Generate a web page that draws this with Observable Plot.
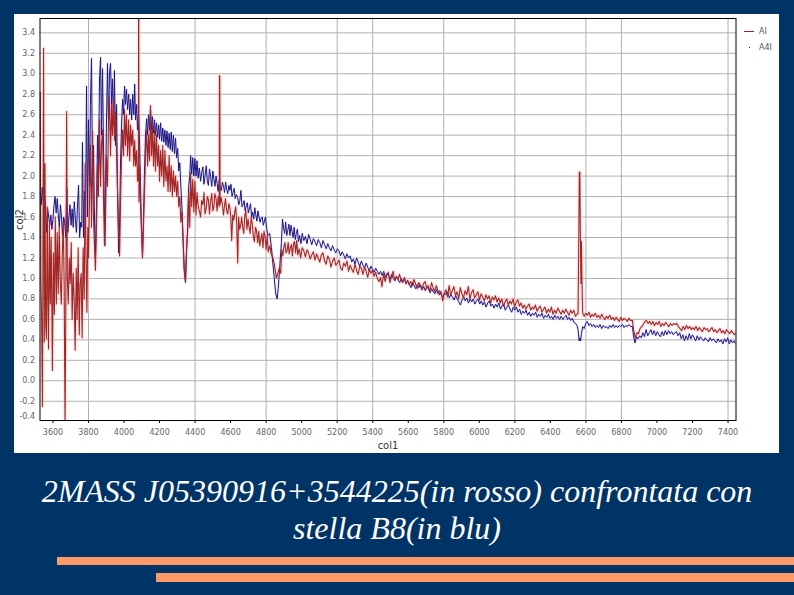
<!DOCTYPE html>
<html><head><meta charset="utf-8">
<script src="https://cdn.jsdelivr.net/npm/d3@7"></script>
<script src="https://cdn.jsdelivr.net/npm/@observablehq/plot@0.6"></script>
<style>
html,body{margin:0;padding:0;width:794px;height:595px;overflow:hidden;background:#003366}
#panel{position:absolute;left:14px;top:14px;width:765px;height:439px;background:#fff}
#chart{position:absolute;left:0;top:0}
#chart svg{background:transparent;display:block}
#chart [aria-label$="axis label"]{font-size:10px;fill:#333}
#cap{position:absolute;left:0;top:473px;width:794px;text-align:center;color:#fff;font:italic 32px/37px "Liberation Serif",serif}
.bar{position:absolute;right:0;background:#ff9966}
.lg{position:absolute;left:759px;font:8px "DejaVu Sans",sans-serif;color:#555}
</style></head><body>
<div id="panel"></div>
<div id="chart"></div>
<div class="lg" style="top:27px">AI</div><div class="lg" style="top:43px">A4I</div>
<div style="position:absolute;left:744px;top:31px;width:10px;height:1px;background:#a02020"></div>
<div style="position:absolute;left:749px;top:47px;width:1px;height:1px;background:#1a1a80"></div>
<div id="cap">2MASS J05390916+3544225(in rosso) confrontata con<br>stella B8(in blu)</div>
<div class="bar" style="left:57px;top:557px;height:8px"></div>
<div class="bar" style="left:156px;top:573px;height:9px"></div>
<script>
const xTicks=[3600,3800,4000,4200,4400,4600,4800,5000,5200,5400,5600,5800,6000,6200,6400,6600,6800,7000,7200,7400];
const xGrid=[3800,4400,4800,5200,5400,5800,6200,6600,6800,7400];
const yGrid=[-0.2,0,0.2,0.4,0.6,0.8,1,1.2,1.4,1.6,1.8,2,2.2,2.4,2.6,2.8,3,3.2,3.4];
const yTicks=[-0.35,...yGrid];

const redUv=[[3528,2.82],[3532,1.0],[3536,0.6],[3541,-0.25],[3547,3.25],[3551,0.38],[3555,2.12],[3559,0.55],[3563,0.41],[3568,1.7],[3572,0.7],[3575,0.31],[3580,1.55],[3585,0.75],[3590,1.4],[3597,0.1],[3602,1.25],[3608,0.65],[3613,1.6],[3619,0.75],[3624,1.45],[3630,0.85],[3635,1.5],[3641,0.98],[3647,0.75],[3652,1.2],[3658,1.55],[3663,0.95],[3668,-0.45],[3672,0.6],[3677,2.63],[3681,1.0],[3686,0.75],[3692,1.2],[3697,0.95],[3703,1.35],[3708,0.6],[3714,1.05],[3720,0.75],[3725,0.3],[3731,1.1],[3736,0.6],[3742,1.3],[3748,0.45],[3753,0.95],[3759,1.05],[3764,0.42],[3770,1.3],[3776,0.8],[3781,2.12],[3786,1.2],[3791,0.67],[3796,1.5],
[3800,1.2],[3806,1.8],[3811,2.3],[3817,1.5],[3823,2.44],[3828,1.6],[3834,1.3],[3839,1.08],[3845,1.5],[3851,2.1],[3856,1.8],[3862,2.55],[3868,1.9],[3873,2.3],[3879,2.45],[3885,1.75],[3890,1.32],[3896,1.6],[3901,2.2],[3907,1.9],[3913,2.55],[3918,2.77],[3924,2.2],[3930,2.7],[3935,2.4],[3941,2.74],[3946,2.35],[3952,2.62],[3958,2.2],[3963,1.9],[3969,1.5],[3975,1.22],[3980,1.7],[3986,2.2],[3992,2.45],[3997,2.2],[4003,2.65],[4008,2.3],[4014,2.6],[4020,2.2],[4026,2.55],[4032,2.15],[4037,2.5],[4043,2.3],[4049,2.45],[4055,2.1],[4060,2.35],[4065,2.1],[4071,2.25],[4076,1.95],[4081,2.0],[4082,3.7],[4083,3.7],[4084,1.75],[4088,2.1],[4093,1.7],[4098,1.5],[4104,1.2]];
const redMid=[[4110,1.55],[4116,1.9],[4121,2.2],[4127,2.45],[4133,2.1],[4138,2.4],[4144,2.15],[4149,2.69],[4155,2.2],[4160,2.5],[4166,2.1],[4172,2.45],[4177,2.05],[4183,2.4],[4189,2.1],[4195,2.3],[4200,1.95],[4206,2.25],[4212,2.0],[4218,2.3],[4224,1.9],[4230,2.25],[4236,1.95],[4242,2.1],[4248,1.85],[4254,2.2],[4260,1.85],[4266,2.1],[4272,1.8],[4278,2.05],[4284,1.85],[4290,2.0],[4296,1.8],[4302,1.95],[4308,1.7],[4314,1.8],[4320,1.55],[4326,1.65],[4332,1.4],[4338,1.1],[4346,0.98],[4352,1.3],[4358,1.45],[4364,1.85],[4370,1.5],[4375,2.03],[4381,1.7],[4387,1.97],[4393,1.65],[4399,1.95],[4405,1.62],[4411,1.84],[4417,1.71],[4424,1.66],[4431,1.6],[4437,1.76],[4444,1.72],[4450,1.84],[4456,1.63],[4463,1.69],[4469,1.8],[4475,1.77],[4481,1.63],[4487,1.75],[4494,1.83],[4500,1.66],[4506,1.7],[4511,1.83],[4518,1.78],[4524,1.66],[4530,1.8],[4536,1.7],[4537,2.98],[4539,2.98],[4541,1.72],[4547,1.79],[4553,1.73],[4560,1.62],[4565,1.7],[4571,1.78],[4578,1.66],[4584,1.63],[4590,1.73],[4596,1.69],[4601,1.6],[4606,1.37],[4612,1.62],[4618,1.57],[4624,1.66],[4629,1.7],[4634,1.55],[4640,1.15],[4645,1.6],[4651,1.48],[4657,1.52],[4662,1.6],[4668,1.5],[4674,1.44],[4680,1.62],[4686,1.66],[4692,1.48],[4698,1.58],[4704,1.5],[4710,1.44],[4716,1.6],[4722,1.53],[4728,1.41],[4734,1.36],[4740,1.5],[4746,1.47],[4752,1.35],[4758,1.46],[4764,1.32],[4770,1.38],[4776,1.44],[4782,1.3],[4788,1.46],[4794,1.41],[4800,1.28],[4806,1.42],[4812,1.26],[4820,1.32],[4828,1.24],[4838,1.2],[4848,1.12],[4858,1.0],[4866,1.05],[4874,1.1],[4882,1.05],[4888,1.28],[4894,1.22],[4900,1.31],[4906,1.35],[4912,1.25],[4918,1.27],[4924,1.35],[4930,1.24],[4936,1.3],[4942,1.33],[4948,1.22],[4954,1.34],[4960,1.36],[4966,1.25],[4972,1.37],[4978,1.23],[4986,1.29],[4994,1.2]];
const redTail=[[5003,1.3],[5012,1.27],[5021,1.21],[5030,1.28],[5039,1.25],[5048,1.19],[5057,1.23],[5066,1.26],[5075,1.18],[5084,1.24],[5093,1.2],[5102,1.16],[5111,1.23],[5120,1.25],[5129,1.17],[5138,1.14],[5147,1.22],[5156,1.19],[5165,1.11],[5174,1.17],[5183,1.2],[5192,1.13],[5201,1.15],[5210,1.18],[5219,1.1],[5228,1.08],[5237,1.15],[5246,1.12],[5255,1.17],[5264,1.07],[5273,1.13],[5282,1.09],[5291,1.06],[5300,1.14],[5309,1.08],[5318,1.04],[5327,1.12],[5336,1.1],[5345,1.04],[5354,1.11],[5363,1.07],[5372,1.01],[5381,1.09],[5390,1.05],[5399,1.08],[5408,1.02],[5417,1.06],[5426,1.0],[5435,0.97],[5444,1.01],[5452,0.92],[5461,1.04],[5470,0.97],[5479,1.03],[5488,1.06],[5497,0.96],[5506,1.02],[5515,1.07],[5524,0.98],[5533,1.02],[5542,0.99],[5551,1.04],[5560,0.98],[5569,0.96],[5578,1.01],[5587,0.95],[5596,0.98],[5605,0.94],[5614,0.97],[5623,0.93],[5632,0.99],[5641,0.95],[5650,0.9],[5659,0.96],[5668,0.93],[5677,0.89],[5686,0.95],[5695,0.97],[5704,0.9],[5713,0.93],[5722,0.87],[5731,0.96],[5740,0.91],[5749,0.87],[5758,0.93],[5767,0.88],[5776,0.84],[5785,0.87],[5794,0.78],[5803,0.85],[5812,0.89],[5821,0.82],[5830,0.93],[5839,0.84],[5848,0.88],[5857,0.92],[5866,0.83],[5875,0.87],[5884,0.8],[5893,0.91],[5902,0.85],[5911,0.81],[5920,0.88],[5929,0.84],[5938,0.92],[5947,0.8],[5956,0.86],[5965,0.89],[5974,0.81],[5983,0.84],[5992,0.87],[6001,0.79],[6010,0.85],[6019,0.82],[6028,0.78],[6037,0.84],[6046,0.8],[6055,0.83],[6064,0.76],[6073,0.82],[6082,0.79],[6091,0.83],[6100,0.77],[6109,0.81],[6118,0.76],[6127,0.8],[6136,0.73],[6145,0.77],[6154,0.8],[6163,0.74],[6172,0.78],[6181,0.75],[6190,0.8],[6199,0.72],[6208,0.77],[6217,0.79],[6226,0.73],[6235,0.76],[6244,0.71],[6253,0.74],[6262,0.7],[6271,0.73],[6280,0.75],[6289,0.69],[6298,0.72],[6307,0.7],[6316,0.74],[6325,0.68],[6334,0.71],[6343,0.73],[6352,0.67],[6361,0.7],[6370,0.72],[6379,0.66],[6388,0.7],[6397,0.67],[6406,0.72],[6415,0.65],[6424,0.69],[6433,0.66],[6442,0.71],[6451,0.68],[6460,0.65],[6469,0.69],[6478,0.66],[6487,0.7],[6496,0.67],[6505,0.64],[6514,0.69],[6523,0.66],[6532,0.69],[6541,0.63],[6550,0.65],[6556,0.66],[6560,1.41],[6563,2.04],[6566,2.04],[6569,1.41],[6572,0.95],[6575,1.36],[6578,0.95],[6582,0.66],[6590,0.63],[6599,0.66],[6608,0.64],[6617,0.67],[6626,0.62],[6635,0.65],[6644,0.63],[6653,0.66],[6662,0.62],[6671,0.64],[6680,0.61],[6689,0.65],[6698,0.62],[6707,0.6],[6716,0.63],[6725,0.61],[6734,0.64],[6743,0.6],[6752,0.62],[6761,0.59],[6770,0.62],[6779,0.6],[6788,0.58],[6797,0.62],[6806,0.59],[6815,0.61],[6824,0.6],[6833,0.58],[6842,0.61],[6851,0.59],[6862,0.59],[6868,0.5],[6878,0.42],[6888,0.47],[6896,0.46],[6905,0.51],[6914,0.53],[6923,0.55],[6932,0.58],[6941,0.59],[6950,0.56],[6959,0.58],[6968,0.55],[6977,0.58],[6986,0.54],[6995,0.57],[7004,0.55],[7013,0.58],[7022,0.53],[7031,0.56],[7040,0.54],[7049,0.57],[7058,0.55],[7067,0.53],[7076,0.56],[7085,0.54],[7094,0.56],[7103,0.55],[7112,0.56],[7121,0.53],[7130,0.51],[7139,0.49],[7148,0.53],[7157,0.5],[7166,0.54],[7175,0.51],[7184,0.53],[7193,0.5],[7202,0.52],[7211,0.5],[7220,0.53],[7229,0.49],[7238,0.52],[7247,0.5],[7256,0.48],[7265,0.52],[7274,0.5],[7283,0.51],[7292,0.48],[7301,0.5],[7310,0.52],[7319,0.48],[7328,0.5],[7337,0.47],[7346,0.49],[7355,0.51],[7364,0.47],[7373,0.49],[7382,0.46],[7391,0.5],[7400,0.48],[7409,0.46],[7418,0.49],[7427,0.47],[7436,0.45],[7444,0.47]];

const blueUv=[[3528,1.85],[3534,1.72],[3540,1.89],[3546,1.75],[3552,1.86],[3558,1.7],[3564,1.45],[3570,1.68],[3576,1.6],[3582,1.52],[3588,1.62],[3594,1.48],[3600,1.58],[3606,1.72],[3612,1.8],[3618,1.64],[3624,1.78],[3630,1.62],[3636,1.5],[3642,1.72],[3648,1.6],[3654,1.42],[3660,1.6],[3666,1.55],[3672,1.4],[3678,1.88],[3684,1.45],[3690,1.6],[3696,1.72],[3702,1.52],[3708,1.68],[3714,1.5],[3720,1.75],[3726,1.58],[3732,1.45],[3738,1.7],[3744,1.91],[3750,1.4],[3756,1.55],[3762,1.5],[3766,2.33],[3772,1.4],[3777,1.85],[3783,1.5],[3789,2.88],[3794,1.6],[3800,2.55],[3806,1.9],[3811,2.7],[3817,3.15],[3823,1.9],[3828,2.3],[3834,1.55],[3839,1.2],[3845,1.7],[3851,2.4],[3856,2.0],[3862,2.95],[3868,3.16],[3873,2.4],[3879,3.05],[3885,2.2],[3892,1.32],[3896,1.9],[3901,2.5],[3907,3.1],[3913,2.45],[3918,3.0],[3924,3.1],[3930,2.7],[3935,2.95],[3941,2.5],[3946,3.03],[3952,2.3],[3958,2.7],[3963,1.9],[3970,1.25],[3975,1.5],[3980,2.1],[3986,2.5],[3992,2.75],[3997,2.6],[4003,2.88],[4008,2.7],[4014,2.85],[4020,2.65],[4026,2.8],[4032,2.6],[4037,2.75],[4043,2.55],[4049,2.8],[4055,2.6],[4060,2.9],[4065,2.55],[4071,2.7],[4076,2.45],[4082,2.6],[4088,2.3],[4093,1.9],[4098,1.5],[4104,1.22]];
const blueMid=[[4110,1.6],[4116,2.1],[4121,2.4],[4127,2.56],[4133,2.4],[4138,2.6],[4144,2.45],[4149,2.66],[4155,2.45],[4160,2.58],[4166,2.42],[4172,2.55],[4177,2.4],[4183,2.52],[4189,2.38],[4195,2.5],[4200,2.36],[4206,2.52],[4212,2.34],[4218,2.47],[4224,2.33],[4230,2.45],[4236,2.3],[4242,2.44],[4248,2.28],[4254,2.42],[4260,2.26],[4266,2.43],[4272,2.24],[4278,2.4],[4284,2.22],[4290,2.37],[4296,2.18],[4302,2.27],[4308,2.05],[4314,2.13],[4320,1.9],[4326,1.7],[4332,1.4],[4340,1.05],[4346,0.96],[4352,1.25],[4358,1.5],[4364,1.9],[4370,2.0],[4375,2.2],[4381,2.02],[4387,2.18],[4393,2.0],[4399,2.17],[4405,2.0],[4411,2.15],[4417,1.98],[4424,2.08],[4431,1.95],[4437,2.03],[4444,2.09],[4450,1.92],[4456,2.0],[4463,2.1],[4469,1.95],[4475,1.91],[4481,2.07],[4487,2.0],[4494,1.9],[4500,2.05],[4506,1.97],[4512,1.9],[4518,2.0],[4524,1.93],[4530,1.85],[4536,1.96],[4542,1.89],[4548,1.86],[4554,1.94],[4560,1.9],[4566,1.84],[4572,1.94],[4578,1.87],[4584,1.83],[4590,1.91],[4596,1.86],[4602,1.92],[4608,1.8],[4614,1.84],[4620,1.88],[4626,1.78],[4632,1.82],[4640,1.79],[4646,1.72],[4652,1.76],[4658,1.86],[4664,1.7],[4670,1.72],[4676,1.76],[4682,1.66],[4688,1.71],[4694,1.74],[4700,1.64],[4706,1.69],[4712,1.73],[4718,1.6],[4724,1.65],[4730,1.58],[4736,1.69],[4742,1.62],[4748,1.56],[4754,1.66],[4760,1.6],[4766,1.55],[4772,1.59],[4778,1.6],[4784,1.52],[4790,1.56],[4796,1.6],[4802,1.5],[4810,1.42],[4820,1.44],[4830,1.3],[4838,1.15],[4846,1.0],[4854,0.85],[4862,0.8],[4868,0.9],[4874,1.05],[4880,1.2],[4886,1.35],[4892,1.58],[4898,1.5],[4904,1.44],[4910,1.55],[4916,1.42],[4922,1.47],[4928,1.53],[4934,1.42],[4940,1.52],[4946,1.46],[4952,1.4],[4958,1.5],[4964,1.38],[4970,1.44],[4976,1.48],[4982,1.36],[4988,1.42],[4996,1.34]];
const blueTail=[[5003,1.44],[5012,1.37],[5021,1.41],[5030,1.34],[5039,1.43],[5048,1.38],[5057,1.33],[5066,1.39],[5075,1.36],[5084,1.32],[5093,1.38],[5102,1.35],[5111,1.3],[5120,1.37],[5129,1.33],[5138,1.29],[5147,1.34],[5156,1.3],[5165,1.27],[5174,1.32],[5183,1.28],[5192,1.25],[5201,1.29],[5210,1.27],[5219,1.22],[5228,1.26],[5237,1.23],[5246,1.19],[5255,1.24],[5264,1.2],[5273,1.22],[5282,1.16],[5291,1.19],[5300,1.14],[5309,1.2],[5318,1.16],[5327,1.12],[5336,1.17],[5345,1.13],[5354,1.1],[5363,1.15],[5372,1.11],[5381,1.07],[5390,1.12],[5399,1.09],[5408,1.06],[5417,1.1],[5426,1.07],[5435,1.04],[5444,1.07],[5453,1.03],[5462,1.07],[5471,1.01],[5480,1.05],[5489,1.03],[5498,0.99],[5507,1.04],[5516,1.0],[5525,0.98],[5534,1.02],[5543,0.99],[5552,0.96],[5561,1.0],[5570,0.97],[5579,1.0],[5588,0.95],[5597,0.98],[5606,0.94],[5615,0.91],[5624,0.96],[5633,0.93],[5642,0.9],[5651,0.94],[5660,0.91],[5669,0.94],[5678,0.89],[5687,0.92],[5696,0.88],[5705,0.92],[5714,0.9],[5723,0.86],[5732,0.9],[5741,0.87],[5750,0.85],[5759,0.89],[5768,0.85],[5777,0.88],[5786,0.84],[5795,0.82],[5804,0.86],[5813,0.84],[5822,0.87],[5831,0.81],[5840,0.84],[5849,0.82],[5858,0.79],[5867,0.83],[5876,0.8],[5885,0.77],[5894,0.74],[5903,0.79],[5912,0.82],[5921,0.78],[5930,0.81],[5939,0.76],[5948,0.8],[5957,0.77],[5966,0.8],[5975,0.75],[5984,0.78],[5993,0.8],[6002,0.75],[6011,0.78],[6020,0.74],[6029,0.77],[6038,0.72],[6047,0.76],[6056,0.78],[6065,0.73],[6074,0.75],[6083,0.71],[6092,0.75],[6101,0.72],[6110,0.76],[6119,0.7],[6128,0.73],[6137,0.75],[6146,0.69],[6155,0.72],[6164,0.74],[6173,0.7],[6182,0.67],[6191,0.72],[6200,0.69],[6209,0.72],[6218,0.67],[6227,0.7],[6236,0.65],[6245,0.68],[6254,0.66],[6263,0.69],[6272,0.64],[6281,0.67],[6290,0.63],[6299,0.66],[6308,0.64],[6317,0.67],[6326,0.62],[6335,0.65],[6344,0.63],[6353,0.66],[6362,0.61],[6371,0.64],[6380,0.62],[6389,0.65],[6398,0.61],[6407,0.63],[6416,0.6],[6425,0.64],[6434,0.61],[6443,0.63],[6452,0.6],[6461,0.63],[6470,0.6],[6479,0.62],[6488,0.64],[6497,0.6],[6506,0.62],[6515,0.59],[6524,0.61],[6533,0.57],[6542,0.56],[6550,0.54],[6556,0.5],[6562,0.39],[6566,0.42],[6570,0.39],[6575,0.46],[6582,0.53],[6590,0.51],[6599,0.56],[6608,0.58],[6617,0.54],[6626,0.56],[6635,0.53],[6644,0.55],[6653,0.52],[6662,0.54],[6671,0.52],[6680,0.55],[6689,0.51],[6698,0.54],[6707,0.52],[6716,0.53],[6725,0.51],[6734,0.54],[6743,0.52],[6752,0.55],[6761,0.52],[6770,0.54],[6779,0.52],[6788,0.54],[6797,0.53],[6806,0.55],[6815,0.52],[6824,0.54],[6833,0.53],[6842,0.55],[6851,0.53],[6862,0.53],[6868,0.44],[6876,0.37],[6885,0.43],[6894,0.41],[6903,0.44],[6912,0.42],[6921,0.47],[6930,0.43],[6939,0.5],[6948,0.44],[6957,0.47],[6966,0.5],[6975,0.45],[6984,0.49],[6993,0.44],[7002,0.48],[7011,0.45],[7020,0.43],[7029,0.48],[7038,0.44],[7047,0.49],[7056,0.45],[7065,0.49],[7074,0.46],[7083,0.48],[7092,0.45],[7101,0.47],[7110,0.48],[7119,0.44],[7128,0.47],[7137,0.41],[7146,0.45],[7155,0.39],[7164,0.44],[7173,0.4],[7182,0.46],[7191,0.41],[7200,0.45],[7209,0.42],[7218,0.39],[7227,0.44],[7236,0.4],[7245,0.43],[7254,0.41],[7263,0.39],[7272,0.42],[7281,0.4],[7290,0.38],[7299,0.42],[7308,0.39],[7317,0.41],[7326,0.39],[7335,0.37],[7344,0.41],[7353,0.38],[7362,0.4],[7371,0.36],[7380,0.41],[7389,0.38],[7398,0.42],[7407,0.36],[7416,0.4],[7425,0.37],[7434,0.39],[7444,0.36]];

const red=[...redUv,...redMid,...redTail];
const blue=[...blueUv,...blueMid,...blueTail];
const X=d=>d[0],Y=d=>d[1];
const tickFont={fontFamily:"DejaVu Sans",fontSize:8,fill:"#666"};
const plot=Plot.plot({
  width:794,height:453,marginLeft:39.5,marginRight:58.5,marginTop:18,marginBottom:33,
  style:{background:"transparent",overflow:"visible"},
  x:{domain:[3527,7445],label:null},
  y:{domain:[-0.388,3.54],label:null},
  marks:[
    Plot.ruleY(yGrid,{stroke:"#b0b0b0",strokeWidth:1}),
    Plot.ruleX(xGrid,{stroke:"#b0b0b0",strokeWidth:1}),
    Plot.line(red,{x:X,y:Y,stroke:"#ffc8c8",strokeWidth:4,strokeOpacity:0.4,clip:true}),
    Plot.line(blue,{x:X,y:Y,stroke:"#c8c8ff",strokeWidth:3,strokeOpacity:0.25,clip:true}),
    Plot.line(blue,{x:X,y:Y,stroke:"#1c1480",strokeWidth:1,clip:true}),
    Plot.line(red,{x:X,y:Y,stroke:"#a32626",strokeWidth:1.1,clip:true}),
    Plot.frame({stroke:"#000",strokeWidth:1}),
    Plot.axisX({ticks:xTicks,tickFormat:d3.format("d"),tickSize:3,tickPadding:6,...tickFont,label:"col1",labelAnchor:"center",labelArrow:"none",labelOffset:28}),
    Plot.axisY({ticks:yTicks,tickFormat:d=>d<-0.3?"-0.4":d3.format(".1f")(d).replace("\u2212","-"),tickSize:0,tickPadding:5,...tickFont,label:"col2",labelAnchor:"center",labelArrow:"none",labelOffset:24})
  ]
});
document.getElementById("chart").appendChild(plot);
</script>
</body></html>
